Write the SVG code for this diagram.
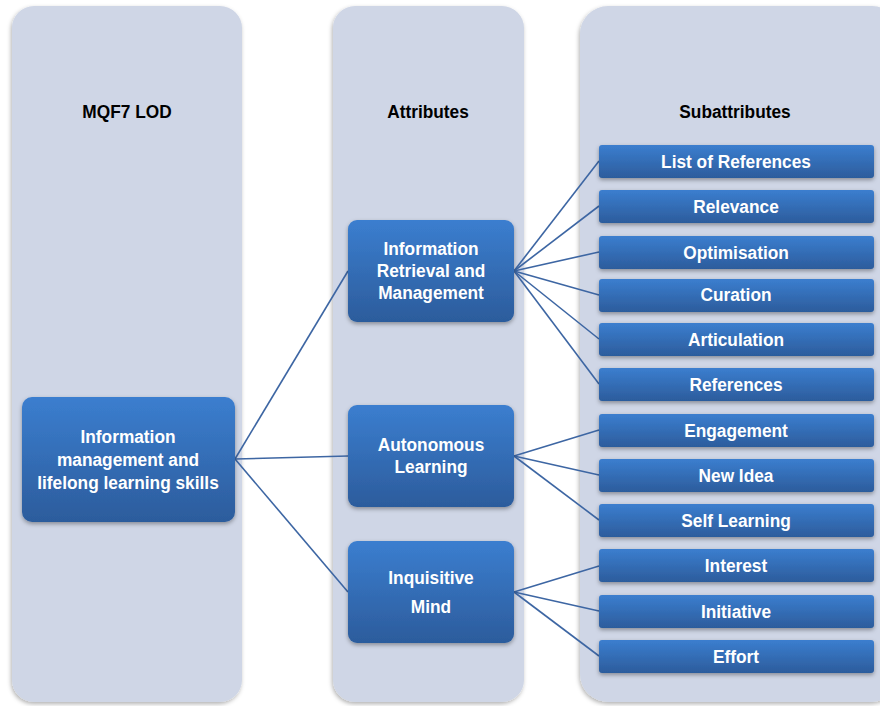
<svg xmlns="http://www.w3.org/2000/svg" width="880" height="706" viewBox="0 0 880 706">
<style>
.col{fill:#cfd6e6;filter:url(#cs)}
.node{fill:url(#g);filter:url(#ns)}
.hd{font-family:"Liberation Sans",Arial,sans-serif;font-weight:bold;font-size:19px;fill:#000;text-anchor:middle}
.t{font-family:"Liberation Sans",Arial,sans-serif;font-weight:bold;font-size:19px;fill:#fff;text-anchor:middle}
.c line{stroke:#3d66a3;stroke-width:1.6}
</style>
<defs>
<linearGradient id="g" x1="0" y1="0" x2="0" y2="1">
<stop offset="0" stop-color="#3b7ecf"/>
<stop offset="1" stop-color="#2c5c9c"/>
</linearGradient>
<filter id="cs" x="-10%" y="-5%" width="120%" height="110%">
<feDropShadow dx="-1" dy="2" stdDeviation="2" flood-color="#000" flood-opacity="0.3"/>
</filter>
<filter id="ns" x="-10%" y="-20%" width="120%" height="150%">
<feDropShadow dx="0" dy="2" stdDeviation="2" flood-color="#000" flood-opacity="0.35"/>
</filter>
</defs>
<rect width="880" height="706" fill="#fff"/>
<g id="col-lod"><rect class="col" x="12" y="6" width="230" height="696" rx="22"/><text class="hd" transform="translate(127,118) scale(0.91,1)">MQF7 LOD</text></g>
<g id="col-attr"><rect class="col" x="333" y="6" width="191" height="696" rx="22"/><text class="hd" transform="translate(428,118) scale(0.91,1)">Attributes</text></g>
<g id="col-sub"><rect class="col" x="580" y="6" width="320" height="696" rx="28"/><text class="hd" transform="translate(735,118) scale(0.91,1)">Subattributes</text></g>
<g class="c" id="connectors">
<line x1="235" y1="459" x2="348" y2="271"/>
<line x1="235" y1="459" x2="348" y2="456"/>
<line x1="235" y1="459" x2="348" y2="592"/>
<line x1="514" y1="271" x2="599" y2="161"/>
<line x1="514" y1="271" x2="599" y2="206"/>
<line x1="514" y1="271" x2="599" y2="252"/>
<line x1="514" y1="271" x2="599" y2="295"/>
<line x1="514" y1="271" x2="599" y2="339"/>
<line x1="514" y1="271" x2="599" y2="384"/>
<line x1="514" y1="456" x2="599" y2="430"/>
<line x1="514" y1="456" x2="599" y2="475"/>
<line x1="514" y1="456" x2="599" y2="520"/>
<line x1="514" y1="592" x2="599" y2="566"/>
<line x1="514" y1="592" x2="599" y2="611"/>
<line x1="514" y1="592" x2="599" y2="656"/>
</g>
<g id="n-main"><rect class="node" x="22" y="397" width="213" height="125" rx="10"/>
<text class="t" transform="translate(128,443) scale(0.91,1)">Information</text><text class="t" transform="translate(128,466) scale(0.91,1)">management and</text><text class="t" transform="translate(128,489) scale(0.91,1)">lifelong learning skills</text></g>
<g id="n-irm"><rect class="node" x="348" y="220" width="166" height="102" rx="9"/>
<text class="t" transform="translate(431,255) scale(0.91,1)">Information</text><text class="t" transform="translate(431,277) scale(0.91,1)">Retrieval and</text><text class="t" transform="translate(431,299) scale(0.91,1)">Management</text></g>
<g id="n-al"><rect class="node" x="348" y="405" width="166" height="102" rx="9"/>
<text class="t" transform="translate(431,451) scale(0.91,1)">Autonomous</text><text class="t" transform="translate(431,473) scale(0.91,1)">Learning</text></g>
<g id="n-im"><rect class="node" x="348" y="541" width="166" height="102" rx="9"/>
<text class="t" transform="translate(431,584) scale(0.91,1)">Inquisitive</text><text class="t" transform="translate(431,613) scale(0.91,1)">Mind</text></g>
<g id="s1"><rect class="node" x="599" y="145" width="275" height="33" rx="3"/><text class="t" transform="translate(736,168) scale(0.91,1)">List of References</text></g>
<g id="s2"><rect class="node" x="599" y="190" width="275" height="33" rx="3"/><text class="t" transform="translate(736,213) scale(0.91,1)">Relevance</text></g>
<g id="s3"><rect class="node" x="599" y="236" width="275" height="33" rx="3"/><text class="t" transform="translate(736,259) scale(0.91,1)">Optimisation</text></g>
<g id="s4"><rect class="node" x="599" y="279" width="275" height="33" rx="3"/><text class="t" transform="translate(736,301) scale(0.91,1)">Curation</text></g>
<g id="s5"><rect class="node" x="599" y="323" width="275" height="33" rx="3"/><text class="t" transform="translate(736,346) scale(0.91,1)">Articulation</text></g>
<g id="s6"><rect class="node" x="599" y="368" width="275" height="33" rx="3"/><text class="t" transform="translate(736,391) scale(0.91,1)">References</text></g>
<g id="s7"><rect class="node" x="599" y="414" width="275" height="33" rx="3"/><text class="t" transform="translate(736,437) scale(0.91,1)">Engagement</text></g>
<g id="s8"><rect class="node" x="599" y="459" width="275" height="33" rx="3"/><text class="t" transform="translate(736,482) scale(0.91,1)">New Idea</text></g>
<g id="s9"><rect class="node" x="599" y="504" width="275" height="33" rx="3"/><text class="t" transform="translate(736,527) scale(0.91,1)">Self Learning</text></g>
<g id="s10"><rect class="node" x="599" y="549" width="275" height="33" rx="3"/><text class="t" transform="translate(736,572) scale(0.91,1)">Interest</text></g>
<g id="s11"><rect class="node" x="599" y="595" width="275" height="33" rx="3"/><text class="t" transform="translate(736,618) scale(0.91,1)">Initiative</text></g>
<g id="s12"><rect class="node" x="599" y="640" width="275" height="33" rx="3"/><text class="t" transform="translate(736,663) scale(0.91,1)">Effort</text></g>
</svg>
